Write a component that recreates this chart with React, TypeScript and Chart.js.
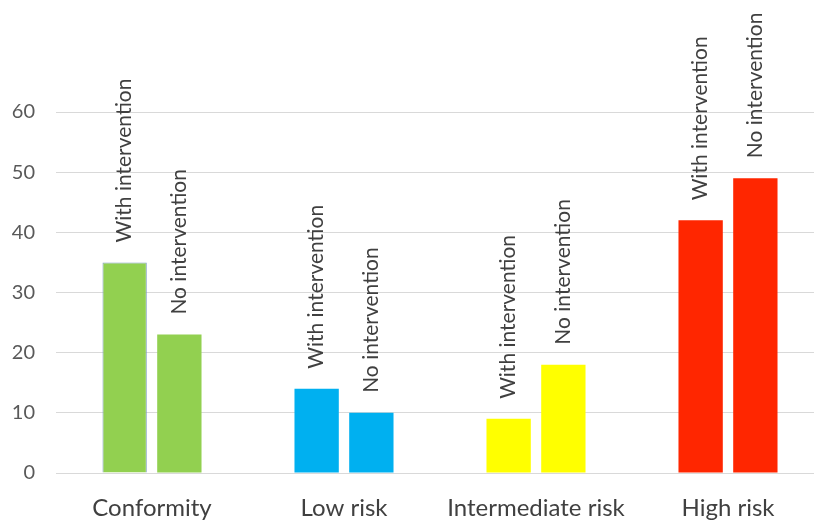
import React, { useEffect, useRef } from "react";
import { Chart, registerables } from "chart.js";

Chart.register(...registerables);

const categories = ["Conformity", "Low risk", "Intermediate risk", "High risk"];
const withIntervention = [35, 14, 9, 42];
const noIntervention = [23, 10, 18, 49];
const seriesLabels = ["With intervention", "No intervention"];
const barColors = ["#92D050", "#00B0F0", "#FFFF00", "#FF2600"];
const yTicks = [0, 10, 20, 30, 40, 50, 60];

const FONT = "Lato, 'Open Sans', sans-serif";

const barLabelPlugin = {
  id: "barLabels",
  afterDatasetsDraw(chart: any) {
    const ctx = chart.ctx;
    ctx.save();
    ctx.font = `21px ${FONT}`;
    ctx.fillStyle = "#404040";
    ctx.textAlign = "left";
    ctx.textBaseline = "middle";
    chart.data.datasets.forEach((ds: any, di: number) => {
      const meta = chart.getDatasetMeta(di);
      meta.data.forEach((el: any) => {
        ctx.save();
        ctx.translate(el.x, el.y - 20);
        ctx.rotate(-Math.PI / 2);
        ctx.fillText(ds.label, 0, 0);
        ctx.restore();
      });
    });
    ctx.restore();
  },
};

export default function App() {
  const ref = useRef<HTMLCanvasElement | null>(null);
  useEffect(() => {
    if (!ref.current) return;
    const chart = new Chart(ref.current, {
      type: "bar",
      data: {
        labels: categories,
        datasets: [
          {
            label: seriesLabels[0],
            data: withIntervention,
            backgroundColor: barColors,
            borderColor: ["#7F9FBF", "rgba(0,0,0,0)", "rgba(0,0,0,0)", "rgba(0,0,0,0)"],
            borderWidth: [1, 0, 0, 0],
            categoryPercentage: 0.57,
            barPercentage: 0.81,
          },
          {
            label: seriesLabels[1],
            data: noIntervention,
            backgroundColor: barColors,
            borderWidth: 0,
            categoryPercentage: 0.57,
            barPercentage: 0.81,
          },
        ],
      },
      options: {
        responsive: false,
        animation: false,
        layout: { padding: { left: 11, top: 112, right: 0, bottom: 0 } },
        plugins: {
          legend: { display: false },
          tooltip: { enabled: false },
        },
        scales: {
          x: {
            grid: { display: false, drawTicks: false },
            border: { display: false },
            afterFit(scale: any) {
              scale.height = 51;
            },
            ticks: {
              color: "#404040",
              font: { family: FONT, size: 24 },
              padding: 21,
              maxRotation: 0,
              autoSkip: false,
            },
          },
          y: {
            min: 0,
            max: 60,
            afterBuildTicks(axis: any) {
              axis.ticks = yTicks.map((v) => ({ value: v }));
            },
            afterFit(scale: any) {
              scale.width = 45;
            },
            grid: { color: "#D9D9D9", drawTicks: false },
            border: { display: false },
            ticks: {
              color: "#595959",
              font: { family: FONT, size: 20 },
              padding: 21,
            },
          },
        },
      },
      plugins: [barLabelPlugin],
    });
    return () => chart.destroy();
  }, []);
  return (
    <div
      style={{
        position: "fixed",
        left: 0,
        top: 0,
        width: 814,
        height: 521,
        overflow: "hidden",
        background: "#fff",
      }}
    >
      <canvas ref={ref} width={824} height={524} />
    </div>
  );
}
